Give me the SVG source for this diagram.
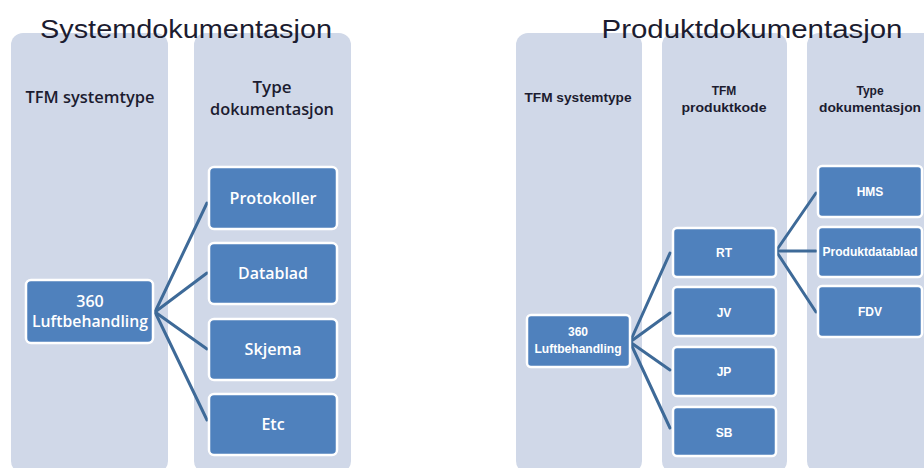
<svg xmlns="http://www.w3.org/2000/svg" width="924" height="468" viewBox="0 0 924 468">
<style>
.col{fill:#D0D8E8}
.box rect{fill:#4F81BD;stroke:#FFFFFF;stroke-width:2.5}
.title{font-family:"Liberation Sans",Arial,sans-serif;font-size:26px;fill:#1C1C30;text-anchor:middle}
.hdr{font-family:"Open Sans","Liberation Sans",Arial,sans-serif;font-size:16px;font-weight:600;fill:#1C1C30;text-anchor:middle}
.hdrs{font-family:"Liberation Sans",Arial,sans-serif;font-size:12px;font-weight:bold;fill:#1C1C30;text-anchor:middle}
.lbl{font-family:"Open Sans","Liberation Sans",Arial,sans-serif;font-size:16px;font-weight:600;fill:#FFFFFF;text-anchor:middle}
.lbls{font-family:"Liberation Sans",Arial,sans-serif;font-size:12px;font-weight:bold;fill:#FFFFFF;text-anchor:middle}
.conn line{stroke:#3E6A98;stroke-width:3;stroke-linecap:round}
</style>
<rect width="924" height="468" fill="#FFFFFF"/>
<g id="left-columns">
<rect class="col" x="11" y="33" width="157" height="440" rx="12"/>
<rect class="col" x="194" y="33" width="157" height="440" rx="12"/>
</g>
<g id="right-columns">
<rect class="col" x="516" y="33" width="126" height="440" rx="12"/>
<rect class="col" x="662" y="33" width="125" height="440" rx="12"/>
<rect class="col" x="807" y="33" width="130" height="440" rx="12"/>
</g>
<text class="title" x="186" y="38" textLength="292" lengthAdjust="spacingAndGlyphs">Systemdokumentasjon</text>
<text class="title" x="752" y="38" textLength="301" lengthAdjust="spacingAndGlyphs">Produktdokumentasjon</text>
<text class="hdr" x="90" y="103" textLength="129" lengthAdjust="spacingAndGlyphs">TFM systemtype</text>
<text class="hdr" x="272" y="93" textLength="39" lengthAdjust="spacingAndGlyphs">Type</text>
<text class="hdr" x="272" y="115" textLength="124" lengthAdjust="spacingAndGlyphs">dokumentasjon</text>
<text class="hdrs" x="578" y="102" textLength="107" lengthAdjust="spacingAndGlyphs">TFM systemtype</text>
<text class="hdrs" x="724" y="95">TFM</text>
<text class="hdrs" x="724" y="112" textLength="85" lengthAdjust="spacingAndGlyphs">produktkode</text>
<text class="hdrs" x="870" y="95">Type</text>
<text class="hdrs" x="870" y="112" textLength="102" lengthAdjust="spacingAndGlyphs">dokumentasjon</text>
<g id="connectors" class="conn">
<line x1="155" y1="312" x2="207" y2="203"/>
<line x1="155" y1="312" x2="207" y2="273"/>
<line x1="155" y1="312" x2="207" y2="349"/>
<line x1="155" y1="312" x2="207" y2="420"/>
<line x1="630" y1="342" x2="670" y2="253"/>
<line x1="630" y1="342" x2="670" y2="313"/>
<line x1="630" y1="342" x2="670" y2="370"/>
<line x1="630" y1="342" x2="670" y2="428"/>
<line x1="776" y1="251" x2="816" y2="193"/>
<line x1="776" y1="251" x2="816" y2="251"/>
<line x1="776" y1="251" x2="816" y2="312"/>
</g>
<g id="l-360" class="box"><rect x="26" y="280" width="127" height="63" rx="5"/>
<text class="lbl" x="90" y="307">360</text><text class="lbl" x="90" y="327" textLength="116" lengthAdjust="spacingAndGlyphs">Luftbehandling</text></g>
<g id="l-protokoller" class="box"><rect x="209" y="167" width="128" height="62" rx="5"/><text class="lbl" x="273" y="204" textLength="87" lengthAdjust="spacingAndGlyphs">Protokoller</text></g>
<g id="l-datablad" class="box"><rect x="209" y="243" width="128" height="61" rx="5"/><text class="lbl" x="273" y="279" textLength="70" lengthAdjust="spacingAndGlyphs">Datablad</text></g>
<g id="l-skjema" class="box"><rect x="209" y="319" width="128" height="61" rx="5"/><text class="lbl" x="273" y="355" textLength="57" lengthAdjust="spacingAndGlyphs">Skjema</text></g>
<g id="l-etc" class="box"><rect x="209" y="394" width="128" height="61" rx="5"/><text class="lbl" x="273" y="430">Etc</text></g>
<g id="r-360" class="box"><rect x="527" y="315" width="103" height="52" rx="4"/>
<text class="lbls" x="578" y="336">360</text><text class="lbls" x="578" y="353" textLength="87" lengthAdjust="spacingAndGlyphs">Luftbehandling</text></g>
<g id="r-rt" class="box"><rect x="673" y="228" width="103" height="49" rx="4"/><text class="lbls" x="724" y="257">RT</text></g>
<g id="r-jv" class="box"><rect x="673" y="287" width="103" height="49" rx="4"/><text class="lbls" x="724" y="317">JV</text></g>
<g id="r-jp" class="box"><rect x="673" y="347" width="103" height="49" rx="4"/><text class="lbls" x="724" y="376">JP</text></g>
<g id="r-sb" class="box"><rect x="673" y="407" width="103" height="49" rx="4"/><text class="lbls" x="724" y="437">SB</text></g>
<g id="r-hms" class="box"><rect x="818" y="166" width="104" height="51" rx="4"/><text class="lbls" x="870" y="196">HMS</text></g>
<g id="r-produktdatablad" class="box"><rect x="818" y="227" width="104" height="50" rx="4"/><text class="lbls" x="870" y="256" textLength="95" lengthAdjust="spacingAndGlyphs">Produktdatablad</text></g>
<g id="r-fdv" class="box"><rect x="818" y="286" width="104" height="51" rx="4"/><text class="lbls" x="870" y="316">FDV</text></g>
</svg>
